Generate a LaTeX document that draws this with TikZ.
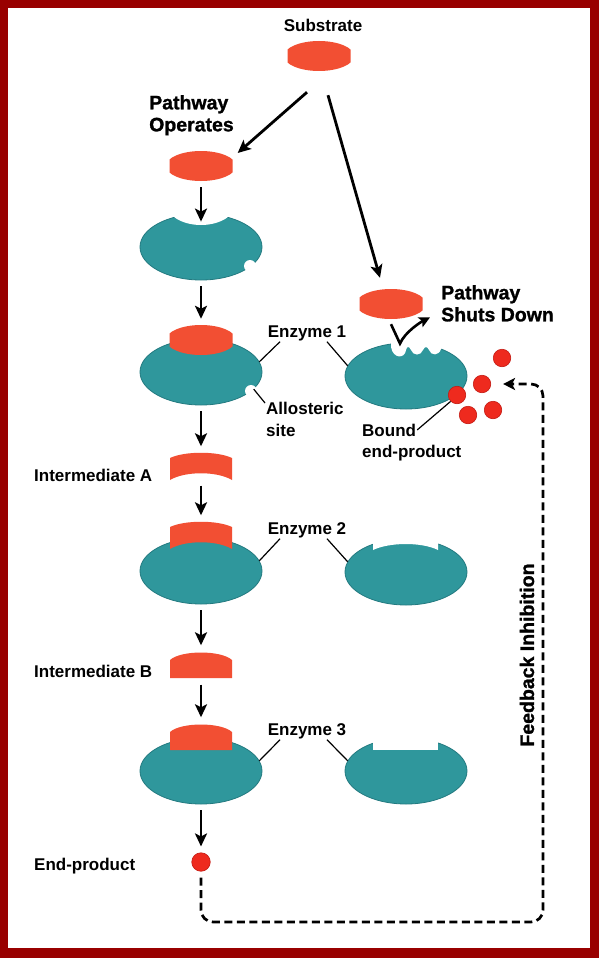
\documentclass[tikz,border=0pt]{standalone}
\usepackage{fontspec}
\setmainfont{Liberation Sans}
\newfontfamily\heavyfont{Liberation Sans}[BoldFeatures={FakeBold=1.2}]
\usetikzlibrary{shapes.geometric,arrows.meta}
\definecolor{framered}{HTML}{990000}
\definecolor{enzteal}{HTML}{2F979C}
\definecolor{enzedge}{HTML}{237A80}
\definecolor{subred}{HTML}{F24F33}
\definecolor{ballred}{HTML}{EE2A1E}
\definecolor{balledge}{HTML}{C41A12}
\tikzset{
  lens/.pic={\clip (-31.5,-16) rectangle (31.5,16); \fill[subred] (0,0) ellipse [x radius=35pt, y radius=15pt];},
  archA/.pic={\fill[subred] (-31,14) -- (-31,-8) .. controls (-16,-15) and (16,-15) .. (31,-8) -- (31,14) .. controls (16,5) and (-16,5) .. (-31,14) -- cycle;},
  domeB/.pic={\fill[subred] (-31,13) -- (-31,-5) .. controls (-20,-15) and (20,-15) .. (31,-5) -- (31,13) -- cycle;}
}
\begin{document}
\begin{tikzpicture}[x=1pt, y=-1pt,
  enzyme/.style={ellipse, fill=enzteal, draw=enzedge, line width=0.8pt, minimum width=122pt, minimum height=66pt, inner sep=0pt},
  site/.style={ellipse, minimum width=63pt, minimum height=30pt, inner sep=0pt},
  box/.style={rectangle, minimum width=62pt, minimum height=27pt, inner sep=0pt},
  prod/.style={circle, fill=ballred, draw=balledge, line width=0.6pt, minimum size=17.5pt, inner sep=0pt},
  lbl/.style={font=\fontsize{17}{22}\selectfont\bfseries, inner sep=1pt},
  heading/.style={font=\heavyfont\fontsize{19.5}{22}\selectfont\bfseries, align=left, inner sep=0pt},
  flow/.style={-{Stealth[length=13pt,width=12pt,inset=3pt]}, line width=2.8pt, shorten <=6pt, shorten >=6pt},
  bounce/.style={-{Stealth[length=11pt,width=11pt,inset=2.5pt]}, line width=2.6pt},
  lead/.style={line width=1.2pt},
  fback/.style={-{Stealth[length=12pt,width=12pt,inset=3pt]}, line width=2.7pt, dash pattern=on 8pt off 4.5pt, rounded corners=12pt}]
\useasboundingbox (0,0) rectangle (599,958);
\fill[framered] (0,0) rectangle (599,958);
\fill[white] (8,8) rectangle (590,948);

\node[lbl, anchor=base] (sublab) at (323,32) {Substrate};
\node[site] (s0) at (319,56) {};
\pic at (s0) {lens};
\node[heading, anchor=north west] (oper) at (149,95) {Pathway\\Operates};

\node[enzyme] (e1a) at (201,247) {};
\fill[white] (201,203) ellipse [x radius=35pt, y radius=22pt];
\fill[white] (250,266) circle (6pt);
\node[site] (s1) at (201,166) {};
\pic at (s1) {lens};
\node[enzyme] (e1b) at (201,372) {};
\fill[white] (251,391) circle (6pt);
\node[site] (bs1) at (201,340) {};
\pic at (bs1) {lens};

\node[box] (ia) at (201,466) {};
\pic at (ia) {archA};
\node[enzyme] (e2) at (201,571) {};
\node[box] (ba) at (201,535) {};
\pic at (ba) {archA};
\node[box] (ib) at (201,665) {};
\pic at (ib) {domeB};
\node[enzyme] (e3) at (201,771) {};
\node[box] (bb) at (201,737) {};
\pic at (bb) {domeB};
\node[prod, minimum size=18.5pt] (ep) at (201,862) {};

\node[site] (s2) at (391,304) {};
\pic at (s2) {lens};
\node[enzyme] (er1) at (406,376) {};
\fill[white] (391,335) -- (391,347) .. controls (393,359) and (405,359) .. (406,350)
  .. controls (407,346) and (409,346) .. (411,350) .. controls (413,356) and (421,356) .. (423,350)
  .. controls (425,346) and (427,346) .. (429,350) .. controls (431,356) and (439,356) .. (441,349)
  -- (446,343) -- (446,335) -- cycle;
\node[prod] (b1) at (502,358) {};
\node[prod] (b2) at (482,384) {};
\node[prod] (b3) at (457,395) {};
\node[prod] (b4) at (468,415) {};
\node[prod] (b5) at (493,410) {};
\node[enzyme] (er2) at (406,572) {};
\fill[white] (373,530) -- (373,550) .. controls (390,542) and (422,542) .. (438,550) -- (438,530) -- cycle;
\node[enzyme] (er3) at (406,771) {};
\fill[white] (373,728) rectangle (438,750);

\node[lbl, anchor=base] (e1lab) at (307,337) {Enzyme 1};
\node[lbl, anchor=base] (e2lab) at (307,534) {Enzyme 2};
\node[lbl, anchor=base] (e3lab) at (307,735) {Enzyme 3};
\node[lbl, anchor=north west, align=left] (allo) at (265,401) {Allosteric\\site};
\node[lbl, anchor=base west] (bnd1) at (361,436) {Bound};
\node[lbl, anchor=base west] (bnd2) at (361,457) {end-product};
\node[lbl, anchor=base west] (ialab) at (33,481) {Intermediate A};
\node[lbl, anchor=base west] (iblab) at (33,677) {Intermediate B};
\node[lbl, anchor=base west] (eplab) at (33,870) {End-product};
\node[heading, anchor=north west] (shut) at (441,285) {Pathway\\Shuts Down};
\node[heading, rotate=90] (fbl) at (527,655) {Feedback Inhibition};
\coordinate (fb) at (543,922);

\draw[lead] ([xshift=-27pt]e1lab.south) -- (e1b.10);
\draw[lead] ([xshift=20pt]e1lab.south) -- (er1.170);
\draw[lead] ([xshift=-27pt]e2lab.south) -- (e2.10);
\draw[lead] ([xshift=20pt]e2lab.south) -- (er2.170);
\draw[lead] ([xshift=-27pt]e3lab.south) -- (e3.10);
\draw[lead] ([xshift=20pt]e3lab.south) -- (er3.170);
\draw[lead] (e1b.-18) -- ([yshift=-2pt]allo.north west);
\draw[lead] (bnd1.east) -- (b3.south west);

\draw[flow, shorten <=0pt, shorten >=0pt] ([shift={(-12pt,-21pt)}]s0.south) -- ([shift={(5pt,13pt)}]s1.east);
\draw[flow, shorten <=0pt, shorten >=0pt] ([shift={(9pt,-24pt)}]s0.south) -- ([shift={(-11pt,11pt)}]s2.north);
\draw[flow, shorten >=-8pt] (s1) -- (e1a);
\draw[flow] (e1a) -- (bs1);
\draw[flow] (e1b) -- (ia);
\draw[flow] (ia) -- (ba);
\draw[flow] (e2) -- (ib);
\draw[flow] (ib) -- (bb);
\draw[flow] (e3) -- (ep);
\draw[bounce] ([yshift=-5pt]s2.south) -- ([shift={(-6pt,-1pt)}]er1.north)
  .. controls +(5,-12) and +(-8,4) .. ([shift={(-11pt,-14pt)}]shut.west);
\draw[fback] ([yshift=-6pt]ep.south) -- (ep |- fb) -- (fb) |- ([xshift=12pt]b2.east);
\end{tikzpicture}
\end{document}
